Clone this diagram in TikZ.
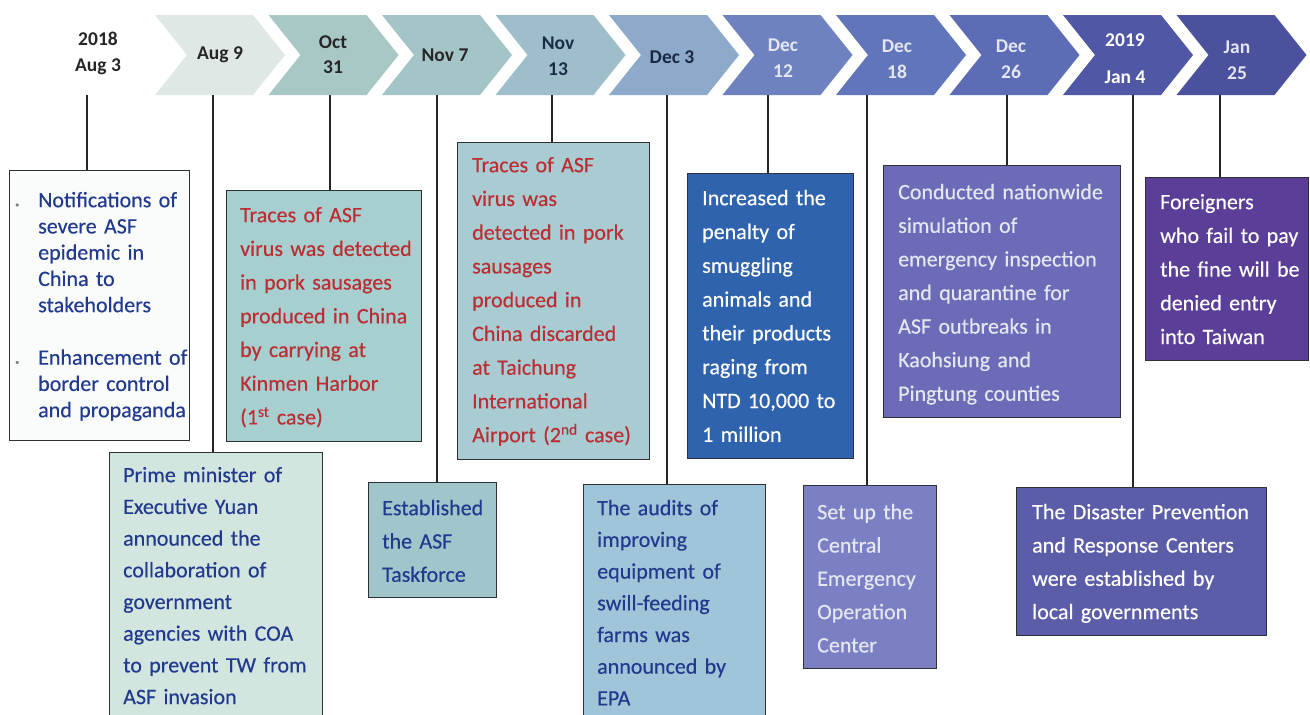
\documentclass[tikz,border=0pt]{standalone}
\usepackage{fontspec}
\setmainfont{Carlito}[UprightFeatures={FakeBold=0.35}]
\usetikzlibrary{calc}

% colours
\definecolor{navy}{RGB}{34,58,142}
\definecolor{redtxt}{RGB}{186,46,52}
\definecolor{palegrey}{RGB}{228,230,240}
\definecolor{bordergrey}{RGB}{45,48,52}

\definecolor{chA}{RGB}{224,232,230}
\definecolor{chB}{RGB}{168,200,198}
\definecolor{chC}{RGB}{164,197,200}
\definecolor{chD}{RGB}{158,190,204}
\definecolor{chE}{RGB}{142,170,203}
\definecolor{chF}{RGB}{110,130,192}
\definecolor{chG}{RGB}{97,117,187}
\definecolor{chH}{RGB}{92,109,182}
\definecolor{chI}{RGB}{80,88,166}
\definecolor{chJ}{RGB}{75,81,157}

\definecolor{fillA}{RGB}{250,252,251}
\definecolor{fillB}{RGB}{210,229,223}
\definecolor{fillC}{RGB}{168,207,207}
\definecolor{fillD}{RGB}{160,198,204}
\definecolor{fillE}{RGB}{169,203,210}
\definecolor{fillF}{RGB}{160,196,216}
\definecolor{fillG}{RGB}{47,99,173}
\definecolor{fillH}{RGB}{123,127,195}
\definecolor{fillI}{RGB}{107,107,184}
\definecolor{fillJ}{RGB}{91,93,169}
\definecolor{fillK}{RGB}{90,62,152}

% fixed height of the first line of every text block
\newcommand\firstln{\rule{0pt}{20pt}}
% bullet hung into the left margin
\newcommand\bul{\leavevmode\llap{\makebox[26pt][l]{\hspace{3pt}\textcolor{gray}{\footnotesize •}}}}

\begin{document}
\begin{tikzpicture}[x=1pt,y=-1pt,
  conn/.style={line width=1.1pt, draw=black!85},
  box/.style={draw=bordergrey, line width=1.3pt, anchor=north west,
              inner sep=0pt, rectangle},
  txt/.style={anchor=north west, inner sep=0pt, align=left, text width=250pt},
  date/.style={font=\bfseries\fontsize{19.5}{26}\selectfont, align=center,
               inner sep=0pt},
]
\useasboundingbox (0,0) rectangle (1310,715);
\clip (0,0) rectangle (1310,715);
\fill[white] (0,0) rectangle (1310,715);

% ---- timeline chevrons ----
\foreach \c [count=\i from 0] in {chA,chB,chC,chD,chE,chF,chG,chH,chI,chJ}{
  \pgfmathsetmacro\xl{155+\i*113.5}
  \fill[\c] (\xl,15) -- (\xl+98,15) -- (\xl+130,55) -- (\xl+98,95)
            -- (\xl,95) -- (\xl+32,55) -- cycle;
}

% ---- dates ----
\node[date, text=black!85] (d0) at (98,53.5) {2018\\Aug 3};
\node[date, text=black!85] (d1) at (220,55) {Aug 9};
\node[date, text=black!85, font=\bfseries\fontsize{19.5}{25}\selectfont] (d2) at (333,54.5) {Oct\\31};
\node[date, text=black!85] (d3) at (445,55) {Nov 7};
\node[date, text={rgb,255:red,26;green,45;blue,70}] (d4) at (558,56.5) {Nov\\13};
\node[date, text={rgb,255:red,26;green,40;blue,68}] (d5) at (672,57) {Dec 3};
\node[date, text=palegrey] (d6) at (783,58) {Dec\\12};
\node[date, text=palegrey] (d7) at (897,59.5) {Dec\\18};
\node[date, text=palegrey] (d8) at (1011,59.5) {Dec\\26};
\node[date, text=white, font=\bfseries\fontsize{19.5}{37}\selectfont] (d9) at (1125,58.5) {2019\\Jan 4};
\node[date, text=palegrey] (d10) at (1237,60) {Jan\\25};

% ---- ticks under the timeline ----
\coordinate (k0) at (87,95);
\coordinate (k1) at (213,95);
\coordinate (k2) at (330,95);
\coordinate (k3) at (437,95);
\coordinate (k4) at (552,95);
\coordinate (k5) at (667,95);
\coordinate (k6) at (768,95);
\coordinate (k7) at (867,95);
\coordinate (k8) at (1007,95);
\coordinate (k9) at (1133,95);
\coordinate (k10) at (1220,95);

% ---- event boxes ----
\node[box, fill=fillA, minimum width=180, minimum height=270] (b0) at (9,170) {};
\node[box, fill=fillB, minimum width=213, minimum height=290] (b1) at (109,452) {};
\node[box, fill=fillC, minimum width=195, minimum height=251] (b2) at (226,190) {};
\node[box, fill=fillD, minimum width=128, minimum height=115] (b3) at (368,482) {};
\node[box, fill=fillE, minimum width=192, minimum height=317] (b4) at (457,142) {};
\node[box, fill=fillF, minimum width=182, minimum height=260] (b5) at (583,484) {};
\node[box, fill=fillG, minimum width=166, minimum height=285] (b6) at (687,173) {};
\node[box, fill=fillH, minimum width=133, minimum height=183] (b7) at (803,485) {};
\node[box, fill=fillI, minimum width=237, minimum height=252] (b8) at (883,165) {};
\node[box, fill=fillJ, minimum width=250, minimum height=148] (b9) at (1016,487) {};
\node[box, fill=fillK, minimum width=163, minimum height=183] (b10) at (1145,177) {};

% ---- connectors ----
\foreach \i in {0,...,10}{
  \draw[conn] (k\i) -- (k\i |- b\i.north);
}

% ---- box texts ----
\node[txt, text=navy, font=\fontsize{22}{26.25}\selectfont] (t0) at (38,187) {%
\bul\firstln Notifications of\\severe ASF\\epidemic in\\China to\\stakeholders\\[26.25pt]
\bul Enhancement of\\border control\\and propaganda};

\node[txt, text=navy, font=\fontsize{22}{31.7}\selectfont] (t1) at (123,462) {%
\firstln Prime minister of\\Executive Yuan\\announced the\\collaboration of\\government\\agencies with COA\\to prevent TW from\\ASF invasion};

\node[txt, text=redtxt, font=\fontsize{22}{33.7}\selectfont] (t2) at (240,202) {%
\firstln Traces of ASF\\virus was detected\\in pork sausages\\produced in China\\by carrying at\\Kinmen Harbor\\(1\textsuperscript{st} case)};

\node[txt, text=navy, font=\fontsize{22}{33.3}\selectfont] (t3) at (382,495) {%
\firstln Established\\the ASF\\Taskforce};

\node[txt, text=redtxt, font=\fontsize{22}{33.75}\selectfont] (t4) at (472,152) {%
\firstln Traces of ASF\\virus was\\detected in pork\\sausages\\produced in\\China discarded\\at Taichung\\International\\Airport (2\textsuperscript{nd} case)};

\node[txt, text=navy, font=\fontsize{22}{31.7}\selectfont] (t5) at (597,495) {%
\firstln The audits of\\improving\\equipment of\\swill-feeding\\farms was\\announced by\\EPA};

\node[txt, text=white, font=\fontsize{22}{33.8}\selectfont] (t6) at (702,185) {%
\firstln Increased the\\penalty of\\smuggling\\animals and\\their products\\raging from\\NTD 10,000 to\\1 million};

\node[txt, text=palegrey, font=\fontsize{22}{33.3}\selectfont] (t7) at (817,499) {%
\firstln Set up the\\Central\\Emergency\\Operation\\Center};

\node[txt, text=palegrey, font=\fontsize{22}{33.6}\selectfont] (t8) at (898,179) {%
\firstln Conducted nationwide\\simulation of\\emergency inspection\\and quarantine for\\ASF outbreaks in\\Kaohsiung and\\Pingtung counties};

\node[txt, text=white, font=\fontsize{22}{33.3}\selectfont] (t9) at (1032,499) {%
\firstln The Disaster Prevention\\and Response Centers\\were established by\\local governments};

\node[txt, text=white, font=\fontsize{22}{33.7}\selectfont] (t10) at (1160,189) {%
\firstln Foreigners\\who fail to pay\\the fine will be\\denied entry\\into Taiwan};
\end{tikzpicture}
\end{document}
